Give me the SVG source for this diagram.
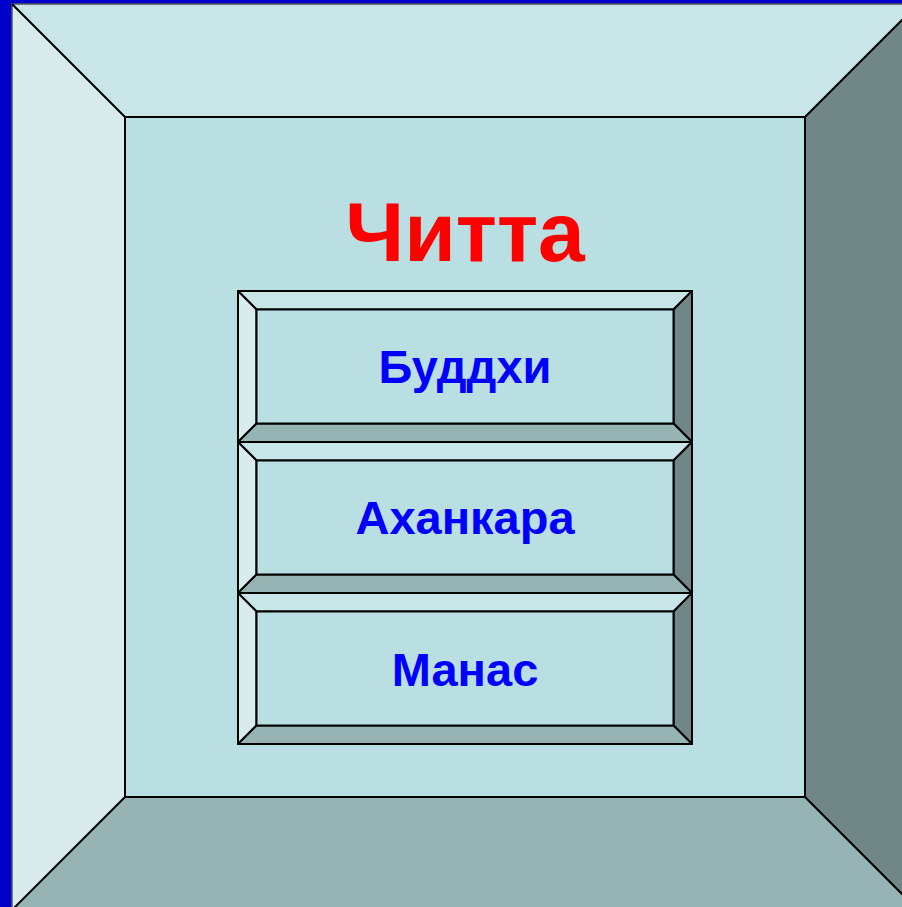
<svg xmlns="http://www.w3.org/2000/svg" width="902" height="907" viewBox="0 0 902 907">
<style>
.e{stroke:#000;stroke-width:2;stroke-linejoin:round}
.t{fill:#C8E6E8}.l{fill:#D8ECEE}.c{fill:#B9DFE2}.r{fill:#718686}.b{fill:#96B4B4}
.lbl{font-family:"Liberation Sans",Arial,sans-serif;font-weight:bold;text-anchor:middle;fill:#0000FF;font-size:47px}
</style>
<defs>
<g id="btn">
<polygon class="t e" points="0,0 454,0 435.5,18.5 18.5,18.5"/>
<polygon class="l e" points="0,0 18.5,18.5 18.5,132.5 0,151"/>
<polygon class="r e" points="454,0 454,151 435.5,132.5 435.5,18.5"/>
<polygon class="b e" points="0,151 18.5,132.5 435.5,132.5 454,151"/>
<rect class="c e" x="18.5" y="18.5" width="417" height="114"/>
</g>
</defs>
<rect width="902" height="907" fill="#0000CC"/>
<g id="frame">
<polygon class="t" points="12,4 918,4 805,117 125,117"/>
<polygon class="l" points="12,4 125,117 125,797 12,910"/>
<polygon class="r" points="918,4 918,910 805,797 805,117"/>
<polygon class="b" points="12,910 125,797 805,797 918,910"/>
<rect class="c" x="125" y="117" width="680" height="680"/>
<rect x="12" y="4" width="906" height="906" fill="none" stroke="#555" stroke-width="1.5"/>
<g fill="none" stroke="#000" stroke-width="2">
<path d="M12,4 L125,117 M918,4 L805,117 M12,910 L125,797 M918,910 L805,797"/>
<rect x="125" y="117" width="680" height="680"/>
</g>
<text x="465" y="261" font-family="'Liberation Sans',Arial,sans-serif" font-weight="bold" font-size="84" fill="#FF0000" text-anchor="middle">Читта</text>
</g>
<g id="buddhi">
<use href="#btn" x="238" y="291"/>
<text class="lbl" x="465" y="383">Буддхи</text>
</g>
<g id="ahankara">
<use href="#btn" x="238" y="442"/>
<text class="lbl" x="465" y="534">Аханкара</text>
</g>
<g id="manas">
<use href="#btn" x="238" y="593"/>
<text class="lbl" x="465" y="686">Манас</text>
</g>
<g id="connectors"/>
</svg>
